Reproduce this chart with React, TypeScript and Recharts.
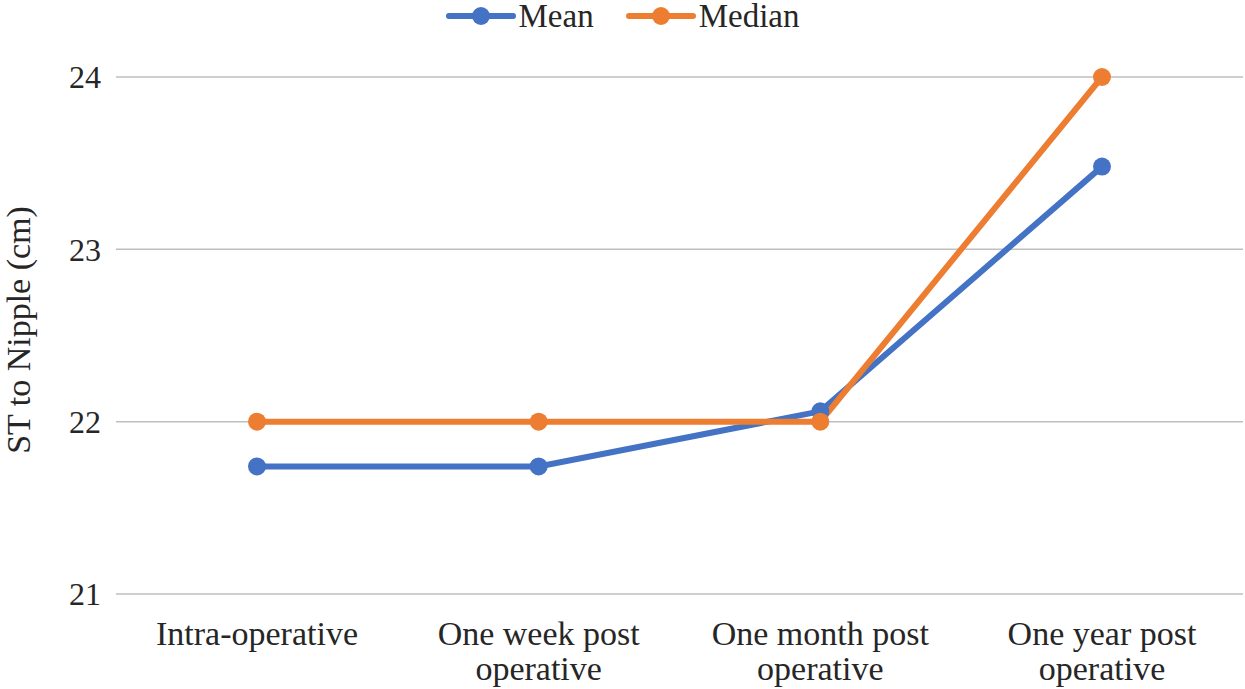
import React from "react";
import { LineChart, Line, XAxis, YAxis, CartesianGrid, Legend } from "recharts";

const categories = [
  "Intra-operative",
  "One week post operative",
  "One month post operative",
  "One year post operative",
];
const meanValues = [21.74, 21.74, 22.06, 23.48];
const medianValues = [22, 22, 22, 24];
const yTicks = [21, 22, 23, 24];

const BLUE = "#4472C4";
const ORANGE = "#ED7D31";
const FONT = "'Liberation Serif', 'Times New Roman', serif";

const data = categories.map((name, i) => ({
  name,
  mean: meanValues[i],
  median: medianValues[i],
}));

// greedy word wrap, about 15 characters per line
function wrap(label: string, max = 15) {
  const lines: string[] = [];
  let cur = "";
  label.split(" ").forEach((w) => {
    const next = cur ? cur + " " + w : w;
    if (next.length > max && cur) {
      lines.push(cur);
      cur = w;
    } else {
      cur = next;
    }
  });
  if (cur) lines.push(cur);
  return lines;
}

const CategoryTick = (props: any) => {
  const { x, y, payload } = props;
  const lines = wrap(String(payload.value));
  return (
    <text x={x} y={y + 43} textAnchor="middle" fontSize={34} fontFamily={FONT} fill="#262626">
      {lines.map((l, i) => (
        <tspan key={i} x={x} dy={i === 0 ? 0 : 35}>
          {l}
        </tspan>
      ))}
    </text>
  );
};

const LegendBox = () => {
  const items = [
    { label: "Mean", color: BLUE },
    { label: "Median", color: ORANGE },
  ];
  return (
    <div style={{ display: "flex", justifyContent: "center", height: 32, alignItems: "center", fontFamily: FONT, fontSize: 33, color: "#262626" }}>
      {items.map((it) => (
        <div key={it.label} style={{ display: "flex", alignItems: "center", margin: "0 16px" }}>
          <svg width={70} height={20} style={{ marginRight: 3 }}>
            <line x1={3} y1={10} x2={67} y2={10} stroke={it.color} strokeWidth={6} strokeLinecap="round" />
            <circle cx={35} cy={10} r={9} fill={it.color} />
          </svg>
          <span style={{ lineHeight: "32px" }}>{it.label}</span>
        </div>
      ))}
    </div>
  );
};

const YLabel = () => (
  <text
    x={30}
    y={330}
    transform="rotate(-90 30 330)"
    textAnchor="middle"
    fontSize={34}
    fontFamily={FONT}
    fill="#262626"
  >
    ST to Nipple (cm)
  </text>
);

export default function App() {
  return (
    <div style={{ position: "absolute", left: 0, top: 0, background: "#fff" }}>
      <LineChart width={1245} height={689} data={data} margin={{ top: 45, right: 2, bottom: 0, left: 0 }}>
        <CartesianGrid vertical={false} stroke="#BFBFBF" strokeWidth={1.5} />
        <XAxis
          dataKey="name"
          axisLine={false}
          tickLine={false}
          padding={{ left: 141, right: 141 }}
          tick={<CategoryTick />}
          interval={0}
          height={95}
        />
        <YAxis
          domain={[21, 24]}
          ticks={yTicks}
          width={116}
          axisLine={false}
          tickLine={false}
          tickSize={0}
          tickMargin={15}
          tick={{ fontSize: 32, fontFamily: FONT, fill: "#262626" }}
          label={<YLabel />}
        />
        <Legend verticalAlign="top" align="center" content={<LegendBox />} wrapperStyle={{ top: 0, left: 0, width: 1245 }} />
        <Line
          dataKey="mean"
          name="Mean"
          stroke={BLUE}
          strokeWidth={6}
          dot={{ r: 9, fill: BLUE, stroke: BLUE, strokeWidth: 0 }}
          isAnimationActive={false}
        />
        <Line
          dataKey="median"
          name="Median"
          stroke={ORANGE}
          strokeWidth={6}
          dot={{ r: 9, fill: ORANGE, stroke: ORANGE, strokeWidth: 0 }}
          isAnimationActive={false}
        />
      </LineChart>
    </div>
  );
}
